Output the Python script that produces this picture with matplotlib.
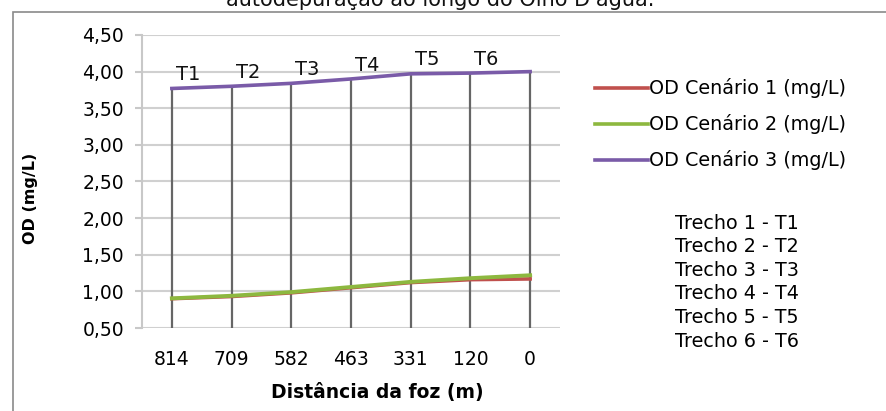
import matplotlib
matplotlib.use("Agg")
import matplotlib.pyplot as plt
from matplotlib.patches import Rectangle

plt.rcParams['font.family'] = ['DejaVu Sans']

categories = ["814", "709", "582", "463", "331", "120", "0"]
od_cenario1 = [0.90, 0.93, 0.98, 1.05, 1.12, 1.16, 1.17]
od_cenario2 = [0.905, 0.94, 0.99, 1.06, 1.13, 1.18, 1.22]
od_cenario3 = [3.77, 3.80, 3.84, 3.90, 3.97, 3.98, 4.00]
trecho_labels = ["T1", "T2", "T3", "T4", "T5", "T6"]
legend_names = ["OD Cenário 1 (mg/L)", "OD Cenário 2 (mg/L)", "OD Cenário 3 (mg/L)"]
yticks = [0.5, 1.0, 1.5, 2.0, 2.5, 3.0, 3.5, 4.0, 4.5]

W, H = 886, 411
fig = plt.figure(figsize=(W / 100, H / 100), dpi=100)

def fx(px):
    return px / W

def fy(py):
    return 1 - py / H

ax = fig.add_axes([fx(142), fy(328), fx(560) - fx(142), fy(35) - fy(328)])

x = list(range(len(categories)))
c_red = "#C0504D"
c_green = "#8DB83F"
c_purple = "#7A5BA8"

ax.vlines(x, 0.5, od_cenario3, colors="#666666", linewidth=1.6, zorder=2)
l1, = ax.plot(x, od_cenario1, color=c_red, linewidth=2.6, zorder=3)
l2, = ax.plot(x, od_cenario2, color=c_green, linewidth=2.8, zorder=4)
l3, = ax.plot(x, od_cenario3, color=c_purple, linewidth=2.6, zorder=4)

for i, lab in enumerate(trecho_labels):
    ax.text(x[i] + 0.27, od_cenario3[i] + 0.06, lab, fontsize=14,
            ha="center", va="bottom", color="#111111")

ax.set_xlim(-0.5, len(categories) - 0.5)
ax.set_ylim(0.5, 4.5)
ax.set_yticks(yticks)
ax.set_yticklabels([f"{v:.2f}".replace(".", ",") for v in yticks], fontsize=13.5)
ax.set_xticks(x)
ax.set_xticklabels(categories, fontsize=13.5)
ax.tick_params(axis="x", length=0, pad=16)
ax.tick_params(axis="y", length=5, color="#c8c8c8", width=1.5, pad=8)
ax.grid(axis="y", color="#d0d0d0", linewidth=1.5, zorder=0)
for s in ["top", "right", "bottom"]:
    ax.spines[s].set_visible(False)
ax.spines["left"].set_color("#c8c8c8")
ax.spines["left"].set_linewidth(1.5)

fig.text(fx(30), fy(198), "OD (mg/L)", rotation=90, fontsize=11.5,
         fontweight="bold", ha="center", va="center")
fig.text(fx(377), fy(392), "Distância da foz (m)", fontsize=13.5,
         fontweight="bold", ha="center", va="center")

# legend
lines = [l1, l2, l3]
for k, (ln, name) in enumerate(zip(lines, legend_names)):
    yy = fy(88 + 36 * k)
    fig.add_artist(plt.Line2D([fx(595), fx(648)], [yy, yy], color=ln.get_color(),
                              linewidth=2.6))
    fig.text(fx(649), yy, name, fontsize=13.8, ha="left", va="center")

for k, lab in enumerate(trecho_labels):
    fig.text(fx(737), fy(223 + 23.6 * k), f"Trecho {k + 1} - {lab}", fontsize=13.8,
             ha="center", va="center")

# frame (left and top edges visible; right and bottom run off the image)
fig.add_artist(Rectangle((fx(13), -0.2), 1.2, fy(12) + 0.2,
                         transform=fig.transFigure, fill=False,
                         edgecolor="#8a8a8a", linewidth=1.2))

# cut-off caption
fig.text(fx(440), fy(6), "autodepuração ao longo do Olho D'água.", fontsize=15,
         ha="center", va="baseline", color="#111111")

fig.savefig("out.png", dpi=100)
